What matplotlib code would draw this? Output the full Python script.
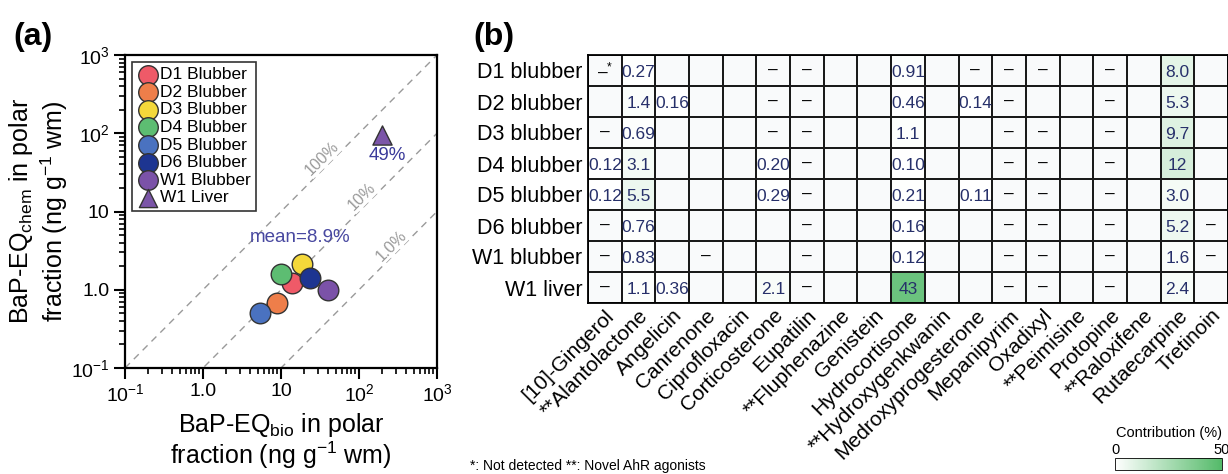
import numpy as np
import matplotlib.pyplot as plt
from matplotlib.colors import LinearSegmentedColormap, Normalize
from matplotlib.ticker import FixedLocator, FixedFormatter, LogLocator, NullFormatter
from matplotlib.cm import ScalarMappable

plt.rcParams['font.family'] = ['Liberation Sans', 'DejaVu Sans']
plt.rcParams['mathtext.fontset'] = 'custom'
plt.rcParams['mathtext.rm'] = 'Liberation Sans'
plt.rcParams['mathtext.it'] = 'Liberation Sans:italic'
plt.rcParams['mathtext.bf'] = 'Liberation Sans:bold'

# ------------------------------------------------------------
# (a) BaP-EQ bio vs chem
# ------------------------------------------------------------
samples = ['D1 Blubber', 'D2 Blubber', 'D3 Blubber', 'D4 Blubber',
           'D5 Blubber', 'D6 Blubber', 'W1 Blubber', 'W1 Liver']
eq_bio = [13.8, 8.9, 18.5, 10.0, 5.4, 23.5, 40.0, 195.0]
eq_chem = [1.22, 0.68, 2.15, 1.58, 0.50, 1.41, 1.00, 96.0]
sample_colors = ['#ef5a68', '#ee7e4a', '#f4d83a', '#5dbd72',
                 '#4a72c0', '#1d3591', '#7b52a8', '#7b55a8']
sample_markers = ['o', 'o', 'o', 'o', 'o', 'o', 'o', '^']

# reference lines: chem = ratio * bio
ref_ratios = [1.0, 0.1, 0.01]
ref_labels = ['100%', '10%', '1.0%']
ref_label_x = [34, 110, 263]

# ------------------------------------------------------------
# (b) contribution of each compound (%)
# '' = blank cell, '-' = not detected
# ------------------------------------------------------------
compounds = ['[10]-Gingerol', '**Alantolactone', 'Angelicin', 'Canrenone',
             'Ciprofloxacin', 'Corticosterone', 'Eupatilin', '**Fluphenazine',
             'Genistein', 'Hydrocortisone', '**Hydroxygenkwanin',
             'Medroxyprogesterone', 'Mepanipyrim', 'Oxadixyl', '**Peimisine',
             'Protopine', '**Raloxifene', 'Rutaecarpine', 'Tretinoin']
tissues = ['D1 blubber', 'D2 blubber', 'D3 blubber', 'D4 blubber',
           'D5 blubber', 'D6 blubber', 'W1 blubber', 'W1 liver']
cells = [
    ['-*', '0.27', '', '', '', '-', '-', '', '', '0.91', '', '-', '-', '-', '', '-', '', '8.0', ''],
    ['', '1.4', '0.16', '', '', '-', '-', '', '', '0.46', '', '0.14', '-', '', '', '-', '', '5.3', ''],
    ['-', '0.69', '', '', '', '-', '-', '', '', '1.1', '', '', '-', '-', '', '-', '', '9.7', ''],
    ['0.12', '3.1', '', '', '', '0.20', '-', '', '', '0.10', '', '', '-', '-', '', '-', '', '12', ''],
    ['0.12', '5.5', '', '', '', '0.29', '-', '', '', '0.21', '', '0.11', '-', '-', '', '-', '', '3.0', ''],
    ['-', '0.76', '', '', '', '', '-', '', '', '0.16', '', '', '-', '-', '', '-', '', '5.2', '-'],
    ['-', '0.83', '', '-', '', '', '-', '', '', '0.12', '', '', '-', '-', '', '-', '', '1.6', '-'],
    ['-', '1.1', '0.36', '', '', '2.1', '-', '', '', '43', '', '', '-', '-', '', '-', '', '2.4', ''],
]

fig = plt.figure(figsize=(12.28, 4.74), dpi=100)

# ---------------- panel (a) ----------------
ax = fig.add_axes([125/1228, 106/474, 312/1228, 313/474])
ax.set_xscale('log')
ax.set_yscale('log')
ax.set_xlim(0.1, 1000)
ax.set_ylim(0.1, 1000)

xx = np.array([0.1, 1000])
for r, lab, lx in zip(ref_ratios, ref_labels, ref_label_x):
    ax.plot(xx, xx * r, ls=(0, (5, 4)), color='#9a9a9a', lw=1.0, zorder=1)
    ax.text(lx, lx * r * 1.4, lab, rotation=45, color='#9a9a9a', fontsize=11.5,
            ha='center', va='center', zorder=2,
            bbox=dict(facecolor='white', edgecolor='none', pad=0.5))

for name, xb, yc, c, m in zip(samples, eq_bio, eq_chem, sample_colors, sample_markers):
    ax.scatter(xb, yc, s=220 if m == 'o' else 190, marker=m, color=c,
               edgecolor='#333333', linewidth=1.0, label=name, zorder=3)

ax.text(17.5, 4.6, 'mean=8.9%', color='#4848a0', fontsize=13.5, ha='center', va='center')
ax.text(229, 52, '49%', color='#3a3a9a', fontsize=13.5, ha='center', va='center')

major = [0.1, 1, 10, 100, 1000]
major_lab = [r'$10^{-1}$', '1.0', '10', r'$10^{2}$', r'$10^{3}$']
for axis in (ax.xaxis, ax.yaxis):
    axis.set_major_locator(FixedLocator(major))
    axis.set_major_formatter(FixedFormatter(major_lab))
    axis.set_minor_locator(LogLocator(base=10, subs=np.arange(2, 10)))
    axis.set_minor_formatter(NullFormatter())
ax.tick_params(which='major', direction='out', length=8, width=1.5, labelsize=14, pad=3)
ax.tick_params(which='minor', direction='out', length=4.5, width=1.2)
for sp in ax.spines.values():
    sp.set_linewidth(1.6)

ax.set_xlabel('BaP-EQ$_{\\rm bio}$ in polar\nfraction (ng g$^{-1}$ wm)', fontsize=18,
              labelpad=4, linespacing=1.05)
ax.set_ylabel('BaP-EQ$_{\\rm chem}$ in polar\nfraction (ng g$^{-1}$ wm)', fontsize=18,
              labelpad=1, linespacing=1.15)

leg = ax.legend(loc='upper left', fontsize=12.5, frameon=True, fancybox=False,
                edgecolor='black', handletextpad=0.1, labelspacing=0.14,
                borderpad=0.3, handlelength=1.2, borderaxespad=0.4, markerscale=0.95)
leg.get_frame().set_linewidth(1.2)

fig.text(13/1228, 1 - 37/474, '(a)', fontsize=23, fontweight='bold', va='center')

# ---------------- panel (b) ----------------
green = LinearSegmentedColormap.from_list('contrib', ['#ffffff', '#54ba69'])
green.set_bad('#f9fafb')

values = np.full((len(tissues), len(compounds)), np.nan)
for i, row in enumerate(cells):
    for j, s in enumerate(row):
        if s not in ('', '-', '-*'):
            values[i, j] = float(s)

hx = fig.add_axes([588/1228, 171/474, 640/1228, 248/474])
hx.pcolormesh(np.ma.masked_invalid(values), cmap=green, vmin=0, vmax=50,
              edgecolors='#1a1a1a', linewidth=1.3)
hx.set_xlim(0, len(compounds))
hx.set_ylim(len(tissues), 0)

for i, row in enumerate(cells):
    for j, s in enumerate(row):
        if s == '':
            continue
        if s == '-':
            hx.text(j + 0.5, i + 0.5, '\u2013', ha='center', va='center', fontsize=12.5, color='black')
        elif s == '-*':
            hx.text(j + 0.5, i + 0.5, '\u2013$^{*}$', ha='center', va='center', fontsize=12.5, color='black')
        else:
            hx.text(j + 0.5, i + 0.55, s, ha='center', va='center', fontsize=12.5,
                    color='#27306a')

hx.set_xticks(np.arange(len(compounds)) + 0.5)
hx.set_xticklabels(compounds, rotation=45, ha='right', rotation_mode='anchor', fontsize=15)
hx.set_yticks(np.arange(len(tissues)) + 0.5)
hx.set_yticklabels(tissues, fontsize=15.5)
hx.tick_params(length=0, pad=4)
hx.tick_params(axis='x', pad=2)
for sp in hx.spines.values():
    sp.set_linewidth(1.3)

fig.text(473/1228, 1 - 37/474, '(b)', fontsize=23, fontweight='bold', va='center')
fig.text(470/1228, 1 - 466/474, '*: Not detected **: Novel AhR agonists', fontsize=10, va='center')

# colour scale
cax = fig.add_axes([1115/1228, 4/474, 107/1228, 12/474])
cb = fig.colorbar(ScalarMappable(norm=Normalize(0, 50), cmap=green), cax=cax,
                  orientation='horizontal', ticks=[0, 50])
cax.xaxis.set_ticks_position('top')
cax.tick_params(length=0, labelsize=10.5, pad=1)
cb.outline.set_linewidth(0.6)
cax.set_title('Contribution (%)', fontsize=10.5, pad=15)

fig.savefig('out.png', dpi=100)
